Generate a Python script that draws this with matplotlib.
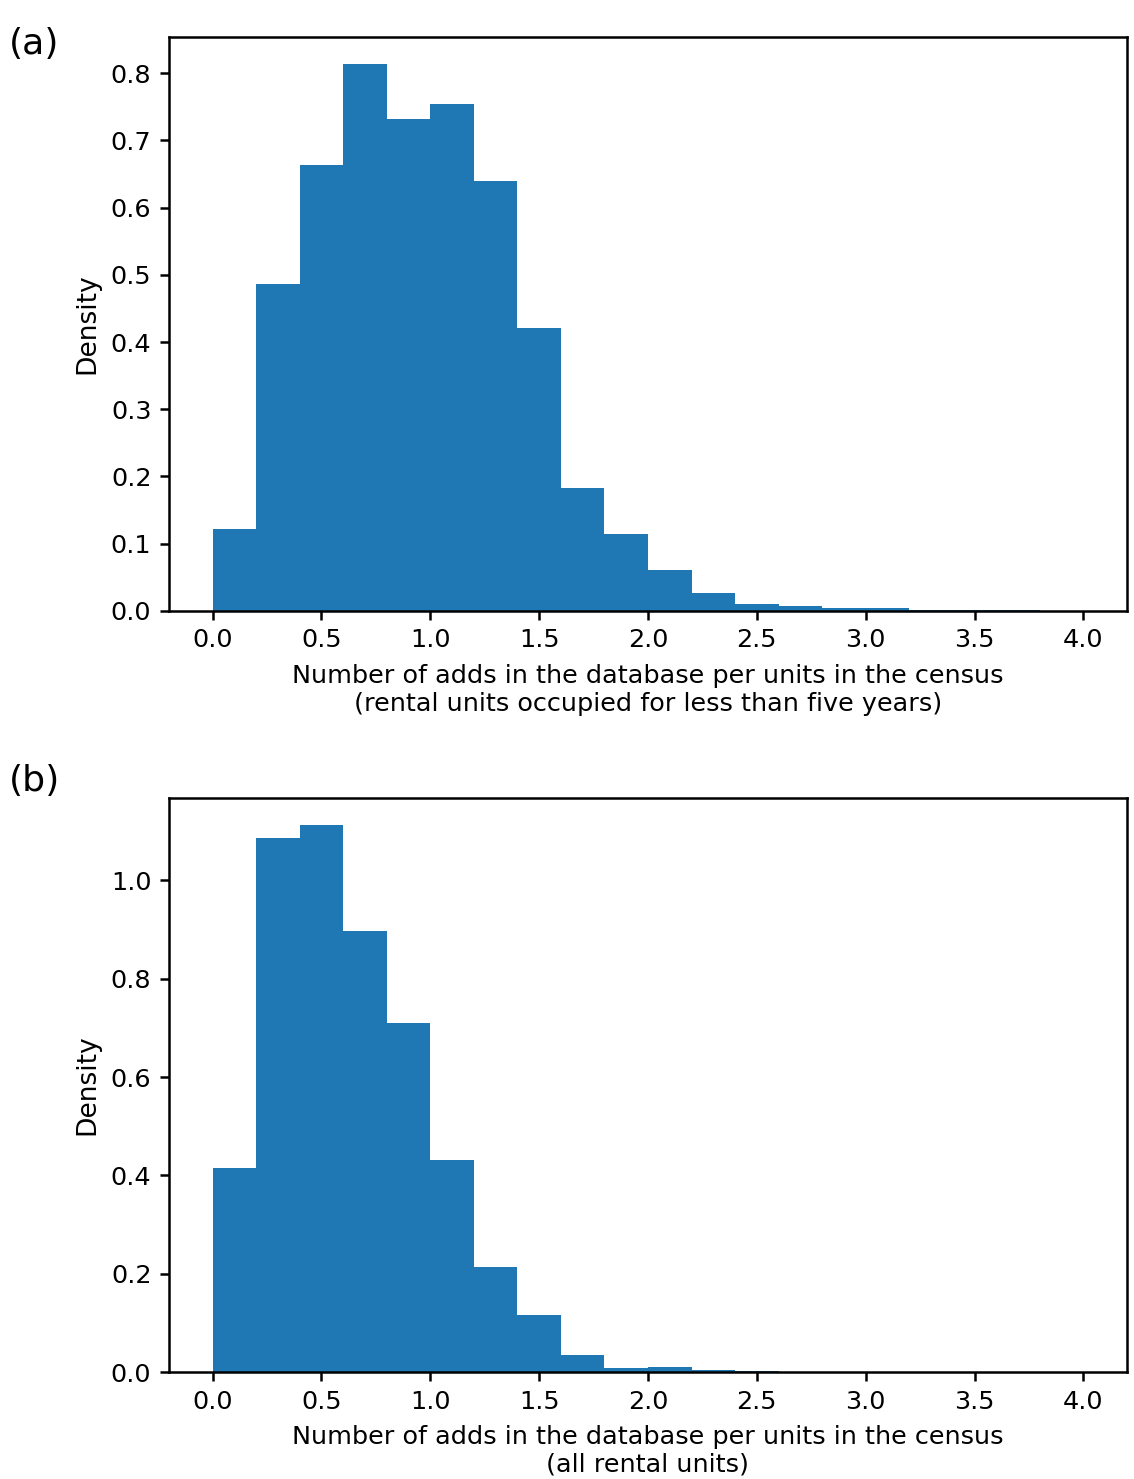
import numpy as np
import matplotlib
matplotlib.use("Agg")
import matplotlib.pyplot as plt

bin_edges = np.round(np.arange(0, 4.01, 0.2), 2)

density_a = [0.122, 0.486, 0.663, 0.813, 0.732, 0.754, 0.639, 0.421, 0.183, 0.115,
             0.061, 0.027, 0.0097, 0.0067, 0.004, 0.005, 0.002, 0.0015, 0.001, 0.0003]
density_b = [0.415, 1.087, 1.112, 0.898, 0.711, 0.431, 0.213, 0.116, 0.034, 0.0075,
             0.0095, 0.004, 0.003, 0.0, 0.0, 0.0, 0.0, 0.0, 0.0, 0.0]

xlabel_a = "Number of adds in the database per units in the census\n(rental units occupied for less than five years)"
xlabel_b = "Number of adds in the database per units in the census\n(all rental units)"

plt.rcParams["axes.linewidth"] = 1.0
plt.rcParams["xtick.major.width"] = 1.0
plt.rcParams["ytick.major.width"] = 1.0

fig = plt.figure(figsize=(6.3, 8.2167), dpi=180)
ax_a = fig.add_axes([0.149, 0.5869, 0.8448, 0.3881])
ax_b = fig.add_axes([0.149, 0.0723, 0.8448, 0.3881])

for ax, dens, xl in [(ax_a, density_a, xlabel_a), (ax_b, density_b, xlabel_b)]:
    ax.hist(bin_edges[:-1], bins=bin_edges, weights=dens, color="#1f77b4")
    ax.set_ylabel("Density", fontsize=10.6)
    ax.set_xlabel(xl, fontsize=10.2, labelpad=4.6)
    ax.set_xticks(np.arange(0, 4.01, 0.5))
    ax.tick_params(labelsize=10.2)

fig.text(0.008, 0.982, "(a)", fontsize=14.5, va="top", ha="left")
fig.text(0.008, 0.4835, "(b)", fontsize=14.5, va="top", ha="left")

fig.savefig("out.png", dpi=180)
